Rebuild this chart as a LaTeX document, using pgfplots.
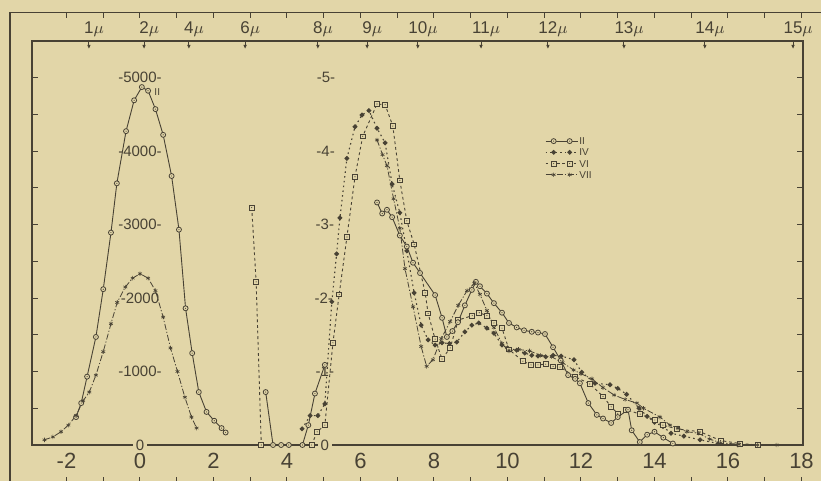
\documentclass[border=0pt]{standalone}
\usepackage{pgfplots}
\pgfplotsset{compat=1.18}
\usepackage{fontspec}
\setmainfont{Liberation Sans}
\usetikzlibrary{arrows.meta}
\definecolor{bgc}{RGB}{226,214,168}
\definecolor{ink}{RGB}{72,66,52}

\pgfdeclareplotmark{odot}{%
  \pgfscope\pgfsetfillcolor{bgc}%
  \pgfpathcircle{\pgfpointorigin}{\pgfplotmarksize}\pgfusepathqfillstroke
  \endpgfscope
  \pgfscope\pgfsetfillcolor{ink}%
  \pgfpathcircle{\pgfpointorigin}{0.3pt}\pgfusepathqfill
  \endpgfscope}
\pgfdeclareplotmark{sdot}{%
  \pgfscope\pgfsetfillcolor{bgc}%
  \pgfpathrectangle{\pgfpoint{-\pgfplotmarksize}{-\pgfplotmarksize}}{\pgfpoint{2\pgfplotmarksize}{2\pgfplotmarksize}}\pgfusepathqfillstroke
  \endpgfscope
  \pgfscope\pgfsetfillcolor{ink}%
  \pgfpathcircle{\pgfpointorigin}{0.3pt}\pgfusepathqfill
  \endpgfscope}

\pgfplotsset{
  legimg/.style={legend image code/.code={%
    \draw[##1, mark repeat=2, mark phase=2] plot coordinates {(0pt,0pt) (4pt,0pt) (8pt,0pt) (12pt,0pt) (16pt,0pt)};}},
  sII/.style={ink, line width=0.45pt, mark=odot, mark size=1.25pt, mark options={solid, line width=0.4pt}, legimg},
  sIV/.style={ink, line width=0.55pt, dash pattern=on 0.8pt off 1.6pt, mark=*, mark size=0.9pt, mark options={solid, fill=ink}, legimg},
  sVI/.style={ink, line width=0.45pt, dash pattern=on 1.4pt off 1.4pt, mark=sdot, mark size=1.2pt, mark options={solid, line width=0.4pt}, legimg},
  sVII/.style={ink, line width=0.4pt, dash pattern=on 3pt off 1pt on 0.6pt off 1pt, mark=asterisk, mark size=1.1pt, mark options={solid, line width=0.3pt}, legimg},
}

\begin{document}
\begin{tikzpicture}
\useasboundingbox (0,0) rectangle (410.5pt,240.5pt);
\fill[bgc] (0,0) rectangle (410.5pt,240.5pt);
\clip (0,0) rectangle (410.5pt,240.5pt);

% outer frame with ticks
\begin{axis}[
  at={(5pt,-1pt)}, anchor=south west,
  scale only axis, width=412.5pt, height=235.25pt,
  xmin=-3.537, xmax=18.912, ymin=0, ymax=1,
  xtick={-2,-1,...,18}, xticklabels={},
  ytick=\empty,
  tick align=inside, major tick length=3pt,
  xtick pos=both,
  axis line style={ink, line width=0.7pt},
  every tick/.style={ink, line width=0.5pt},
]
\end{axis}

% inner box with data
\begin{axis}[
  at={(16pt,18pt)}, anchor=south west,
  scale only axis, width=385.5pt, height=202pt,
  xmin=-2.939, xmax=18.041, ymin=0, ymax=5.497,
  clip=false,
  xtick={-2,0,...,18},
  xticklabels={-2,0,2,4,6,8,10,12,14,16,18},
  xtick pos=bottom,
  xtick style={draw=none},
  xticklabel style={font=\fontsize{11}{11}\selectfont, text=ink, inner sep=0pt, anchor=north, yshift=-4pt},
  ytick={0.5,1,...,5}, yticklabels={},
  ytick pos=both,
  tick align=inside, major tick length=3pt,
  ytick style={ink, line width=0.5pt},
  axis line style={ink, line width=0.7pt},
  legend style={at={(0.665,0.765)}, anchor=north west, draw=none, fill=none,
    font=\fontsize{5}{5}\selectfont, text=ink, inner sep=0pt, row sep=0.8pt,
    nodes={inner sep=0.6pt, text height=3.6pt, text depth=0pt},
    cells={anchor=west}},
]
% II (left, big)
\addplot[sII] coordinates {
(-1.74,0.38)(-1.6,0.57)(-1.44,0.93)(-1.2,1.47)(-1.0,2.12)(-0.79,2.89)(-0.63,3.56)(-0.38,4.27)(-0.16,4.69)(0.05,4.87)(0.22,4.82)(0.42,4.57)(0.63,4.22)(0.86,3.66)(1.06,2.93)(1.24,1.86)(1.42,1.25)(1.6,0.72)(1.81,0.45)(2.02,0.33)(2.22,0.23)(2.33,0.17)};
\addlegendentry{II}
% IV
\addplot[sIV] coordinates {
(4.41,0.22)(4.63,0.4)(4.84,0.4)(5.03,0.56)(5.22,1.95)(5.35,2.6)(5.44,3.09)(5.63,3.9)(5.85,4.33)(6.04,4.49)(6.23,4.55)(6.45,4.31)(6.67,4.11)(6.86,3.55)(7.07,3.16)(7.26,2.64)(7.46,2.07)(7.65,1.63)(7.84,1.43)(8.03,1.36)(8.22,1.39)(8.42,1.38)(8.62,1.4)(8.84,1.54)(9.03,1.63)(9.22,1.66)(9.44,1.59)(9.63,1.52)(9.85,1.36)(10.0,1.32)(10.25,1.29)(10.47,1.25)(10.66,1.22)(10.83,1.21)(11.04,1.2)(11.24,1.22)(11.46,1.21)(11.81,1.16)(12.02,0.99)(12.38,0.84)(12.79,0.82)(13.0,0.77)(13.24,0.69)(13.58,0.5)(13.8,0.39)(14.0,0.31)(14.23,0.25)(14.45,0.16)(14.8,0.12)(15.24,0.07)(15.73,0.02)(16.27,0)};
\addlegendentry{IV}
% VI
\addplot[sVI] coordinates {
(4.67,0)(4.82,0.18)(5.03,0.27)(5.25,1.39)(5.42,2.05)(5.63,2.83)(5.85,3.65)(6.06,4.2)(6.45,4.64)(6.67,4.63)(6.88,4.34)(7.07,3.6)(7.26,3.05)(7.46,2.73)(7.76,2.07)(7.84,1.79)(8.03,1.44)(8.22,1.17)(8.44,1.32)(8.66,1.7)(9.04,1.76)(9.23,1.8)(9.44,1.76)(9.63,1.66)(9.85,1.59)(10.04,1.3)(10.42,1.14)(10.64,1.09)(10.83,1.09)(11.04,1.1)(11.24,1.07)(11.43,1.06)(11.84,0.93)(12.24,0.83)(12.6,0.66)(12.82,0.52)(13.0,0.43)(13.23,0.48)(13.61,0.42)(14.01,0.34)(14.23,0.27)(14.6,0.22)(15.24,0.18)(15.8,0.06)(16.33,0.02)(16.82,0)};
\addlegendentry{VI}
% VII (left, small)
\addplot[sVII] coordinates {
(-2.6,0.07)(-2.37,0.11)(-2.15,0.18)(-1.95,0.27)(-1.74,0.4)(-1.55,0.6)(-1.38,0.72)(-1.2,0.95)(-1.0,1.27)(-0.79,1.65)(-0.62,1.94)(-0.4,2.15)(-0.2,2.27)(0,2.33)(0.22,2.27)(0.42,2.1)(0.63,1.74)(0.83,1.32)(1.02,1.0)(1.22,0.65)(1.4,0.38)(1.54,0.23)};
\addlegendentry{VII}
% II (right)
\addplot[sII, forget plot] coordinates {
(3.42,0.72)(3.62,0)(3.84,0)(4.05,0)(4.42,0)(4.58,0.27)(4.76,0.7)(5.03,1.09)};
\addplot[sII, forget plot] coordinates {
(6.45,3.3)(6.59,3.15)(6.72,3.2)(6.86,3.1)(7.07,2.85)(7.26,2.7)(7.43,2.48)(7.62,2.34)(8.03,2.04)(8.22,1.73)(8.35,1.47)(8.5,1.55)(8.65,1.67)(8.84,1.9)(9.03,2.11)(9.14,2.22)(9.25,2.16)(9.44,2.06)(9.63,1.93)(9.85,1.8)(10.04,1.66)(10.25,1.6)(10.45,1.56)(10.66,1.54)(10.83,1.53)(11.02,1.51)(11.24,1.33)(11.45,1.15)(11.65,0.95)(11.84,0.9)(11.97,0.84)(12.2,0.57)(12.43,0.41)(12.6,0.36)(12.82,0.3)(13.0,0.38)(13.28,0.48)(13.38,0.2)(13.6,0.04)(13.8,0.14)(14.0,0.18)(14.24,0.1)(14.5,0.02)};
% VI (middle spike)
\addplot[sVI, forget plot] coordinates {(3.04,3.23)(3.16,2.22)(3.3,0)};
% VII (right)
\addplot[sVII, forget plot] coordinates {
(6.45,4.15)(6.6,3.95)(6.72,3.8)(6.9,3.35)(7.07,2.95)(7.21,2.4)(7.43,1.88)(7.65,1.34)(7.8,1.07)(7.97,1.16)(8.2,1.45)(8.44,1.68)(8.66,1.9)(8.9,2.1)(9.1,2.2)(9.25,2.05)(9.44,1.83)(9.63,1.6)(9.85,1.38)(10.04,1.28)(10.3,1.3)(10.6,1.28)(10.9,1.22)(11.2,1.2)(11.5,1.12)(11.8,1.02)(12.0,0.97)(12.3,0.9)(12.6,0.78)(12.9,0.68)(13.2,0.62)(13.52,0.57)(13.7,0.5)(14.15,0.38)(14.42,0.27)(14.64,0.23)(14.88,0.18)(15.2,0.16)(15.5,0.08)(15.8,0.03)(16.3,0.01)(16.8,0)(17.33,0)};

% inline scale labels
\begin{scope}[every node/.style={font=\fontsize{7.5}{7.5}\selectfont, text=ink, inner sep=0pt}]
\node at (axis cs:0,5) {-5000-};
\node at (axis cs:0,4) {-4000-};
\node at (axis cs:0,3) {-3000-};
\node at (axis cs:0,2) {-2000};
\node at (axis cs:0,1) {-1000-};
\node[fill=bgc, inner sep=1.5pt] at (axis cs:0,0) {0};
\node at (axis cs:5.06,5) {-5-};
\node at (axis cs:5.05,4) {-4-};
\node at (axis cs:5.03,3) {-3-};
\node at (axis cs:5.0,2) {-2-};
\node at (axis cs:5.03,1) {-1-};
\node[fill=bgc, inner sep=1.5pt] at (axis cs:5.03,0) {0};
\node[font=\fontsize{5}{5}\selectfont] at (axis cs:0.47,4.8) {II};
\end{scope}
\end{axis}

% wavelength scale on top of inner box
\begin{axis}[
  at={(16pt,18pt)}, anchor=south west,
  scale only axis, width=385.5pt, height=202pt,
  xmin=-2.939, xmax=18.041, ymin=0, ymax=5.497,
  axis x line*=top, axis y line=none,
  axis line style={ink, line width=0.7pt},
  xtick={-1.39,0.11,1.33,2.86,4.84,6.18,7.56,9.28,11.10,13.17,15.37,17.77},
  xticklabels={1\rlap{$\mu$},2\rlap{$\mu$},4\rlap{$\mu$},6\rlap{$\mu$},8\rlap{$\mu$},9\rlap{$\mu$},10\rlap{$\mu$},11\rlap{$\mu$},12\rlap{$\mu$},13\rlap{$\mu$},14\rlap{$\mu$},15\rlap{$\mu$}},
  xtick style={draw=none}, major tick length=0pt,
  xticklabel style={font=\fontsize{8.5}{8.5}\selectfont, text=ink, inner sep=0pt, anchor=base, yshift=3.8pt},
]
\pgfplotsinvokeforeach{-1.39,0.11,1.33,2.86,4.84,6.18,7.56,9.28,11.10,13.17,15.37,17.77}{
  \draw[ink, line width=0.5pt, -{Latex[length=2pt,width=1.8pt]}] (axis cs:#1,5.497) -- ++(0pt,-4pt);
}
\end{axis}
\end{tikzpicture}
\end{document}
